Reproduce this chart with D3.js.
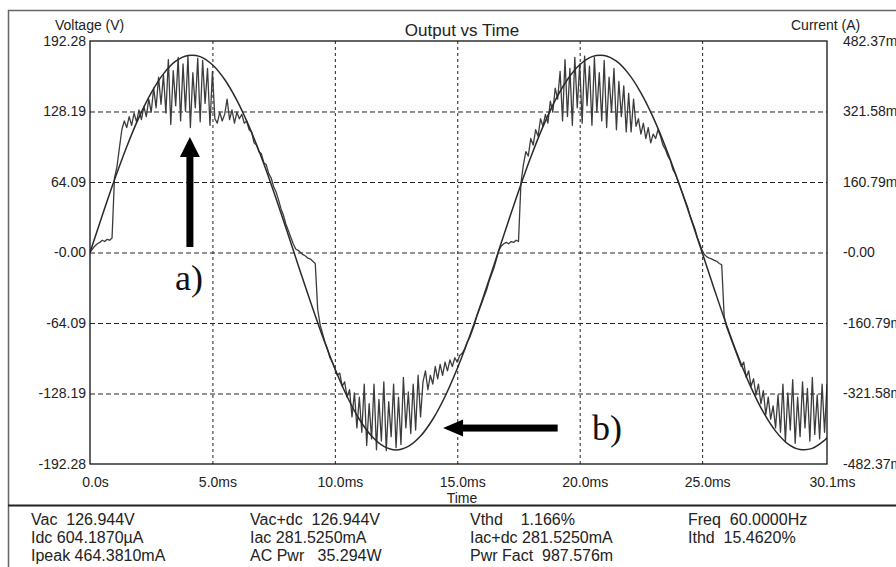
<!DOCTYPE html>
<html>
<head>
<meta charset="utf-8">
<script src="https://cdn.jsdelivr.net/npm/d3@7"></script>
<style>
body { margin: 0; background: #fff; }
svg { display: block; font-family: "Liberation Sans", Arial, Helvetica, sans-serif; }
.grid line { stroke: #222; stroke-width: 1; }
.grid path { display: none; }
.hgrid line { stroke-dasharray: 5,3; }
.vgrid line { stroke-dasharray: 3,3; }
.axis path { display: none; }
.axis text { font-size: 14px; fill: #222; }
.stats text { font-size: 16px; fill: #222; white-space: pre; }
</style>
</head>
<body>
<svg id="chart" width="896" height="567"></svg>
<script>
// Axis ticks and labels
const timeTicks = [0, 5, 10, 15, 20, 25, 30.1];
const timeTickLabels = ["0.0s", "5.0ms", "10.0ms", "15.0ms", "20.0ms", "25.0ms", "30.1ms"];
const voltTicks = [-192.28, -128.19, -64.09, 0, 64.09, 128.19, 192.28];
const voltTickLabels = ["-192.28", "-128.19", "-64.09", "-0.00", "64.09", "128.19", "192.28"];
const currentTicks = [-482.37, -321.58, -160.79, 0, 160.79, 321.58, 482.37];
const currentTickLabels = ["-482.37m", "-321.58m", "-160.79m", "-0.00", "160.79m", "321.58m", "482.37m"];

// Output voltage (V), [time ms, volts]
const voltageData = [
  [0, 0], [0.5, 33.6], [1, 66.1], [1.5, 96.2], [2, 122.9], [2.5, 145.2], [3, 162.4], [3.5, 173.9],
  [4, 179.1], [4.5, 178.1], [5, 170.7], [5.5, 157.3], [6, 138.3], [6.5, 114.4], [7, 86.5], [7.5, 55.5],
  [8, 22.5], [8.5, -11.3], [9, -44.6], [9.5, -76.4], [10, -105.5], [10.5, -130.9], [11, -151.6], [11.5, -166.9],
  [12, -176.3], [12.5, -179.5], [13, -176.3], [13.5, -166.9], [14, -151.6], [14.5, -130.9], [15, -105.5], [15.5, -76.4],
  [16, -44.6], [16.5, -11.3], [17, 22.5], [17.5, 55.5], [18, 86.5], [18.5, 114.4], [19, 138.3], [19.5, 157.3],
  [20, 170.7], [20.5, 178.1], [21, 179.1], [21.5, 173.9], [22, 162.4], [22.5, 145.2], [23, 122.9], [23.5, 96.2],
  [24, 66.1], [24.5, 33.6], [25, 0], [25.5, -33.6], [26, -66.1], [26.5, -96.2], [27, -122.9], [27.5, -145.2],
  [28, -162.4], [28.5, -173.9], [29, -179.1], [29.5, -178.1], [30, -170.7], [30.1, -168.5]
];

// Output current (mA), sampled every 0.1 ms starting at 0 ms (one row per ms)
const currentStepMs = 0.1;
const currentData = [
  0, 8, 15, 20, 23, 28, 25, 30, 28, 33,
  170, 195, 238, 280, 300, 285, 310, 290, 318, 298,
  325, 303, 333, 310, 350, 320, 375, 330, 400, 338,
  405, 318, 440, 292, 415, 335, 445, 300, 430, 322,
  448, 285, 410, 330, 443, 298, 438, 340, 420, 290,
  413, 305, 295, 320, 300, 315, 350, 303, 325, 295,
  320, 305, 315, 295, 300, 280, 275, 250, 245, 230,
  225, 205, 200, 180, 170, 150, 138, 120, 100, 85,
  65, 50, 35, 20, 8, 5, 0, -5, -8, -13,
  -15, -20, -25, -130, -165, -185, -205, -220, -240, -250,
  -265, -280, -275, -305, -295, -330, -313, -375, -320, -400,
  -330, -410, -300, -440, -345, -425, -300, -450, -335, -430,
  -295, -452, -340, -420, -300, -445, -330, -438, -285, -400,
  -318, -413, -300, -405, -280, -375, -295, -270, -313, -280,
  -300, -260, -288, -255, -280, -250, -270, -245, -260, -240,
  -250, -235, -230, -220, -205, -195, -180, -165, -145, -130,
  -115, -100, -85, -65, -50, -35, -15, 5, 15, 20,
  23, 20, 25, 23, 28, 25, 158, 200, 230, 220,
  260, 245, 280, 265, 305, 288, 315, 295, 345, 320,
  375, 350, 413, 300, 440, 310, 420, 290, 445, 330,
  430, 295, 448, 335, 425, 290, 445, 320, 410, 300,
  438, 285, 400, 320, 420, 280, 390, 310, 380, 275,
  363, 275, 350, 288, 305, 270, 295, 260, 285, 250,
  270, 260, 280, 265, 245, 235, 220, 210, 190, 180,
  165, 150, 135, 120, 105, 85, 70, 55, 35, 20,
  5, -5, -10, -13, -15, -18, -20, -25, -28, -145,
  -170, -185, -200, -215, -230, -245, -260, -250, -285, -270,
  -305, -288, -325, -300, -345, -315, -370, -330, -380, -350,
  -400, -325, -410, -300, -432, -320, -405, -290, -435, -330,
  -420, -295, -400, -310, -430, -285, -415, -325, -425, -300,
  -410, -300
];

// Measurement readout under the chart, one list per column
const statsColumns = [
  ["Vac  126.944V", "Idc 604.1870\u00b5A", "Ipeak 464.3810mA"],
  ["Vac+dc  126.944V", "Iac 281.5250mA", "AC Pwr   35.294W"],
  ["Vthd    1.166%", "Iac+dc 281.5250mA", "Pwr Fact  987.576m"],
  ["Freq  60.0000Hz", "Ithd  15.4620%"]
];

// Annotation arrows, in data units (ms / V)
const arrowA = {label: "a)", t: 4.08, from: 5, to: 105, labelT: 3.47, labelV: -34};
const arrowB = {label: "b)", v: -159.6, from: 19.1, to: 14.42, labelT: 20.5, labelV: -170.5};

const margin = {top: 41, right: 69, bottom: 103, left: 90};
const width = 896 - margin.left - margin.right;
const height = 567 - margin.top - margin.bottom;

const svg = d3.select("#chart");

// Outer frame and separator of the readout panel
svg.append("line").attr("x1", 8).attr("x2", 896).attr("y1", 10.5).attr("y2", 10.5)
  .style("stroke", "#666").style("stroke-width", 1.5);
svg.append("line").attr("x1", 8.5).attr("x2", 8.5).attr("y1", 10).attr("y2", 567)
  .style("stroke", "#666").style("stroke-width", 1.5);
svg.append("line").attr("x1", 8).attr("x2", 896).attr("y1", 505.5).attr("y2", 505.5)
  .style("stroke", "#222").style("stroke-width", 2);

const g = svg.append("g").attr("transform", `translate(${margin.left},${margin.top})`);

const xScale = d3.scaleLinear().domain([0, 30.1]).range([0, width]);
const yVolt = d3.scaleLinear().domain([-192.28, 192.28]).range([height, 0]);
const yCurr = d3.scaleLinear().domain([-482.37, 482.37]).range([height, 0]);

// Grid
g.append("g")
  .attr("class", "grid hgrid")
  .call(d3.axisLeft(yVolt).tickValues(voltTicks.slice(1, -1)).tickSize(-width).tickFormat(""));
g.append("g")
  .attr("class", "grid vgrid")
  .attr("transform", `translate(0,${height})`)
  .call(d3.axisBottom(xScale).tickValues(timeTicks.slice(1, -1)).tickSize(-height).tickFormat(""));

// Traces
g.append("clipPath").attr("id", "plot-clip")
  .append("rect").attr("width", width).attr("height", height);

const currentLine = d3.line()
  .x((d, i) => xScale(i * currentStepMs))
  .y(d => yCurr(d));
const voltageLine = d3.line()
  .x(d => xScale(d[0]))
  .y(d => yVolt(d[1]))
  .curve(d3.curveCatmullRom);

const traces = g.append("g").attr("clip-path", "url(#plot-clip)");
traces.append("path")
  .datum(currentData)
  .attr("d", currentLine)
  .style("fill", "none")
  .style("stroke", "#3c3c3c")
  .style("stroke-width", 1.3)
  .style("stroke-linejoin", "round");
traces.append("path")
  .datum(voltageData)
  .attr("d", voltageLine)
  .style("fill", "none")
  .style("stroke", "#2a2a2a")
  .style("stroke-width", 1.5);

// Plot border
g.append("rect")
  .attr("x", 0).attr("y", 0).attr("width", width).attr("height", height)
  .style("fill", "none").style("stroke", "#111").style("stroke-width", 1.3);

// Axes labels
g.append("g")
  .attr("class", "axis")
  .call(d3.axisLeft(yVolt).tickValues(voltTicks).tickSize(0).tickPadding(4)
    .tickFormat((d, i) => voltTickLabels[i]));

g.append("g")
  .attr("class", "axis")
  .attr("transform", `translate(${width},0)`)
  .call(d3.axisRight(yCurr).tickValues(currentTicks).tickSize(0).tickPadding(16)
    .tickFormat((d, i) => currentTickLabels[i]));

g.append("g")
  .attr("class", "axis")
  .attr("transform", `translate(0,${height})`)
  .call(d3.axisBottom(xScale).tickValues(timeTicks).tickSize(0).tickPadding(13)
    .tickFormat((d, i) => timeTickLabels[i]))
  .selectAll("text").attr("x", 5);

// Titles
svg.append("text").attr("x", 55).attr("y", 29.5)
  .style("font-size", "14px").style("fill", "#222").text("Voltage (V)");
svg.append("text").attr("x", 791).attr("y", 29.5)
  .style("font-size", "14px").style("fill", "#222").text("Current (A)");
svg.append("text").attr("x", 462).attr("y", 36).attr("text-anchor", "middle")
  .style("font-size", "17px").style("fill", "#222").text("Output vs Time");
svg.append("text").attr("x", 462).attr("y", 503).attr("text-anchor", "middle")
  .style("font-size", "14px").style("fill", "#222").text("Time");

// Annotation arrows
const ann = g.append("g").style("fill", "#000");
{
  const x = xScale(arrowA.t), yTip = yVolt(arrowA.to), yTail = yVolt(arrowA.from);
  ann.append("rect").attr("x", x - 3.5).attr("y", yTip + 18).attr("width", 7).attr("height", yTail - yTip - 18);
  ann.append("path").attr("d", `M${x},${yTip} L${x + 10},${yTip + 20} L${x - 10},${yTip + 20} Z`);
  g.append("text").attr("x", xScale(arrowA.labelT)).attr("y", yVolt(arrowA.labelV))
    .style("font-family", "'Liberation Serif', 'Times New Roman', serif")
    .style("font-size", "36px").style("fill", "#111").text(arrowA.label);
}
{
  const y = yVolt(arrowB.v), xTip = xScale(arrowB.to), xTail = xScale(arrowB.from);
  ann.append("rect").attr("x", xTip + 18).attr("y", y - 3.5).attr("width", xTail - xTip - 18).attr("height", 7);
  ann.append("path").attr("d", `M${xTip},${y} L${xTip + 20},${y - 8.5} L${xTip + 20},${y + 8.5} Z`);
  g.append("text").attr("x", xScale(arrowB.labelT)).attr("y", yVolt(arrowB.labelV))
    .style("font-family", "'Liberation Serif', 'Times New Roman', serif")
    .style("font-size", "36px").style("fill", "#111").text(arrowB.label);
}

// Readout
const colX = [31, 250, 470, 688];
const rowY = [525, 543, 561];
const stats = svg.append("g").attr("class", "stats");
statsColumns.forEach((col, ci) => {
  col.forEach((txt, ri) => {
    stats.append("text").attr("x", colX[ci]).attr("y", rowY[ri]).text(txt);
  });
});
</script>
</body>
</html>
